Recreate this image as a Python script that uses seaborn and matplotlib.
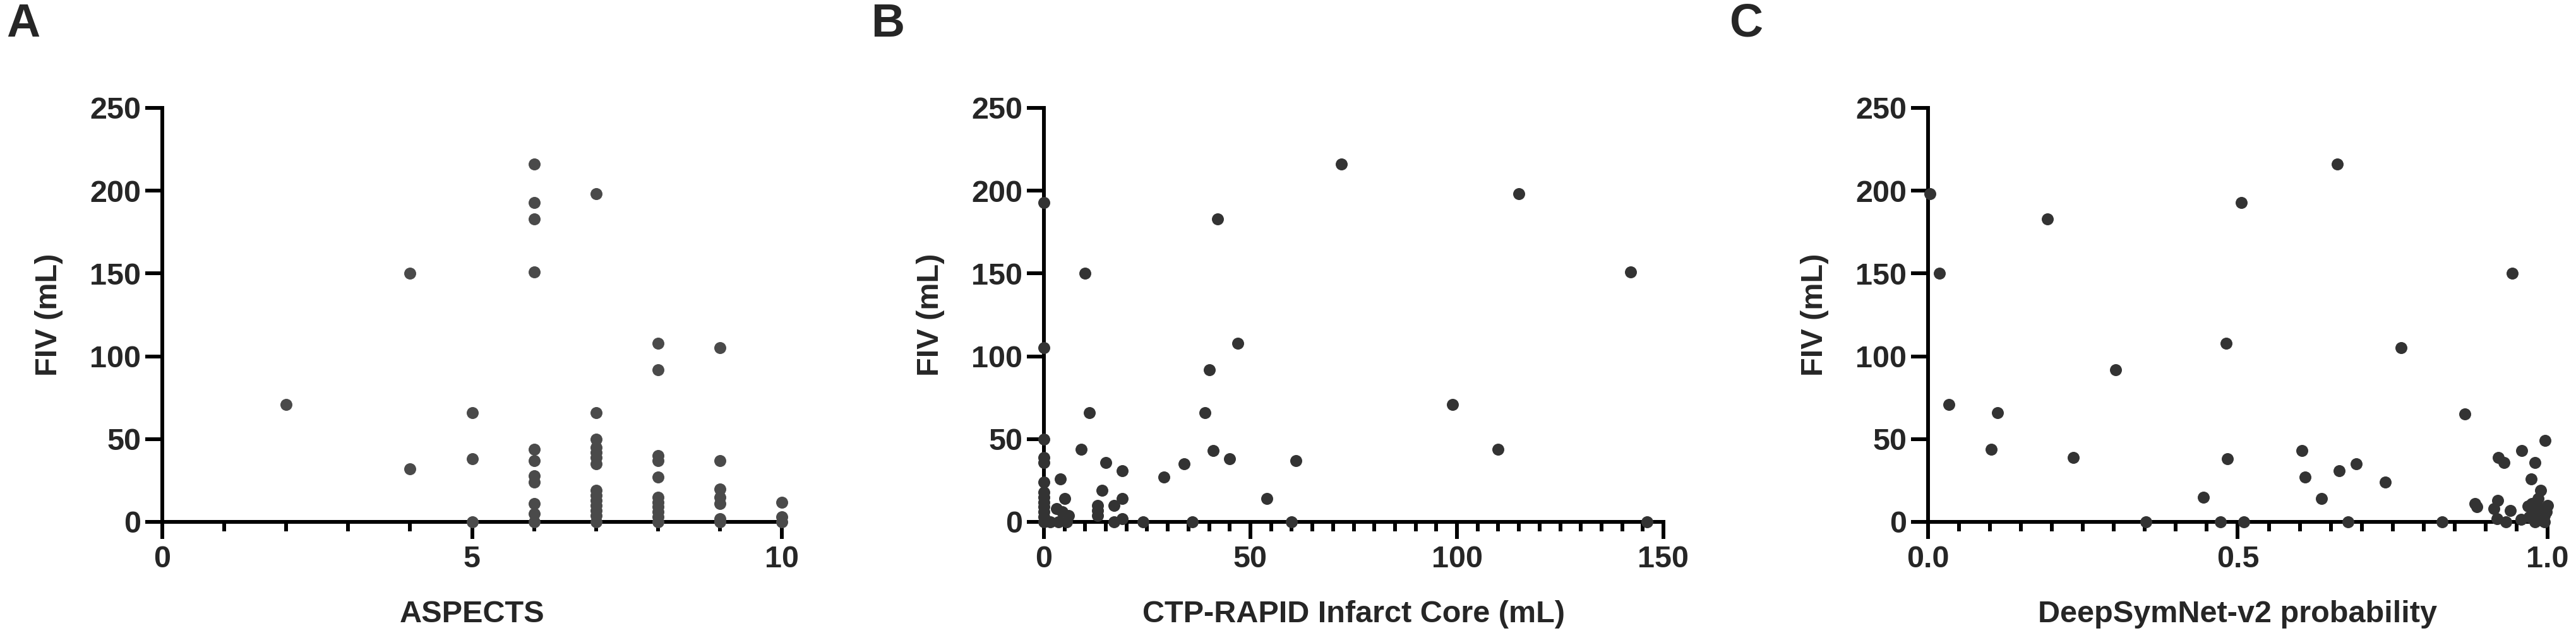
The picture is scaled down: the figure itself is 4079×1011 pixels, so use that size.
import matplotlib
matplotlib.use("Agg")
import matplotlib.pyplot as plt
from matplotlib.ticker import MultipleLocator, FormatStrFormatter
import seaborn as sns
import pandas as pd

sns.set_theme(style="white")
plt.rcParams['font.family'] = ['Liberation Sans', 'DejaVu Sans']
plt.rcParams['font.weight'] = 'bold'

# Panel A: ASPECTS vs FIV
aspects = [2,
           4, 4,
           5, 5, 5,
           6, 6, 6, 6, 6, 6, 6, 6, 6, 6, 6,
           7, 7, 7, 7, 7, 7, 7, 7, 7, 7, 7, 7, 7, 7,
           8, 8, 8, 8, 8, 8, 8, 8, 8, 8, 8,
           9, 9, 9, 9, 9, 9, 9,
           10, 10, 10]
fiv_a = [71,
         150, 32,
         66, 38, 0,
         216, 193, 183, 151, 44, 37, 28, 24, 11, 5, 0,
         198, 66, 50, 45, 42, 39, 35, 19, 16, 13, 10, 7, 4, 0,
         108, 92, 40, 37, 27, 15, 12, 9, 6, 3, 0,
         105, 37, 20, 15, 11, 2, 0,
         12, 3, 0]

# Panel B: CTP-RAPID infarct core vs FIV
core = [72, 115, 0, 42, 10, 142, 47, 0, 40, 99, 11, 39, 0, 9, 110, 41,
        0, 0, 15, 45, 61, 34, 19, 29, 4, 0, 14, 0, 0, 0, 0, 0, 0, 0,
        5, 19, 54, 13, 13, 13, 17, 3, 4.5, 6, 1.5, 3.5, 5.5, 17, 19, 24,
        36, 60, 146]
fiv_b = [216, 198, 193, 183, 150, 151, 108, 105, 92, 71, 66, 66, 50, 44, 44, 43,
         39, 36, 36, 38, 37, 35, 31, 27, 26, 24, 19, 18, 15, 12, 9, 6, 3, 0,
         14, 14, 14, 10, 7, 4, 10, 8, 6, 4, 0, 0, 0, 0, 2, 0,
         0, 0, 0]

# Panel C: DeepSymNet-v2 probability vs FIV
prob = [0.003, 0.018, 0.034, 0.112, 0.102, 0.193, 0.234, 0.303, 0.352, 0.444,
        0.472, 0.481, 0.483, 0.506, 0.51, 0.603, 0.609, 0.635, 0.661, 0.664,
        0.678, 0.691, 0.738, 0.763, 0.83, 0.866, 0.883, 0.886, 0.919, 0.913,
        0.918, 0.92, 0.93, 0.943, 0.94, 0.933, 0.957, 0.958, 0.968, 0.973,
        0.98, 0.989, 0.996, 0.975, 0.985, 0.99, 0.995, 0.998, 0.97, 0.98,
        0.99, 1.0, 0.985, 0.995, 0.978]
fiv_c = [198, 150, 71, 66, 44, 183, 39, 92, 0, 15,
         0, 108, 38, 193, 0, 43, 27, 14, 216, 31,
         0, 35, 24, 105, 0, 65, 11, 9, 13, 8,
         2, 39, 36, 150, 7, 0, 1.5, 43, 9.5, 26,
         36, 19, 49, 11, 14, 8, 4, 6, 3, 0,
         1, 10, 5, 0, 7]

df_a = pd.DataFrame({"ASPECTS": aspects, "FIV": fiv_a})
df_b = pd.DataFrame({"core": core, "FIV": fiv_b})
df_c = pd.DataFrame({"prob": prob, "FIV": fiv_c})

fig = plt.figure(figsize=(40.8, 10.11), dpi=100)
ax_w = 981 / 4080
ax_h = 656 / 1011
bottom = 1 - 827 / 1011
lefts = [257 / 4080, 1653 / 4080, 3053 / 4080]
axes = [fig.add_axes([l, bottom, ax_w, ax_h]) for l in lefts]

panels = [
    (df_a, "ASPECTS", "ASPECTS", "#4a4a4a", (0, 10), 5, 1, "%d"),
    (df_b, "core", "CTP-RAPID Infarct Core (mL)", "#333333", (0, 150), 50, 5, "%d"),
    (df_c, "prob", "DeepSymNet-v2 probability", "#333333", (0, 1), 0.5, 0.05, "%.1f"),
]

for ax, (df, xcol, xlabel, color, xlim, major, minor, fmt) in zip(axes, panels):
    sns.scatterplot(data=df, x=xcol, y="FIV", ax=ax, color=color, s=187,
                    linewidth=0, clip_on=False, zorder=4, legend=False)
    ax.set_xlim(*xlim)
    ax.set_ylim(0, 250)
    ax.xaxis.set_major_locator(MultipleLocator(major))
    ax.xaxis.set_minor_locator(MultipleLocator(minor))
    ax.xaxis.set_major_formatter(FormatStrFormatter(fmt))
    ax.yaxis.set_major_locator(MultipleLocator(50))
    for side in ["top", "right"]:
        ax.spines[side].set_visible(False)
    for side in ["left", "bottom"]:
        ax.spines[side].set_linewidth(4.3)
        ax.spines[side].set_color("black")
        ax.spines[side].set_capstyle("projecting")
    ax.tick_params(which="both", bottom=True, left=True)
    ax.tick_params(which="major", direction="out", length=19.4, width=4.3,
                   color="black", labelsize=35, pad=5)
    ax.tick_params(axis="x", which="minor", direction="out", length=10.8,
                   width=4.3, color="black")
    ax.tick_params(axis="x", which="major", pad=7)
    for lab in ax.get_xticklabels() + ax.get_yticklabels():
        lab.set_family(['Liberation Sans Narrow', 'Liberation Sans'])
        lab.set_fontweight("bold")
    ax.set_xlabel(xlabel, fontsize=35, fontweight="bold")
    ax.set_ylabel("FIV (mL)", fontsize=35, fontweight="bold")
    ax.xaxis.set_label_coords(0.5, -0.224)
    ax.xaxis.label.set_va("center")
    ax.yaxis.set_label_coords(-0.183, 0.5)
    ax.yaxis.label.set_va("center")
    ax.set_facecolor("none")
    ax.grid(False)

for x, letter in zip([10, 1379, 2739], ["A", "B", "C"]):
    fig.text(x / 4080, 1 - 4 / 1011, letter, fontsize=53, fontweight="bold",
             ha="left", va="top")

fig.savefig("out.png", dpi=100, facecolor="white")
